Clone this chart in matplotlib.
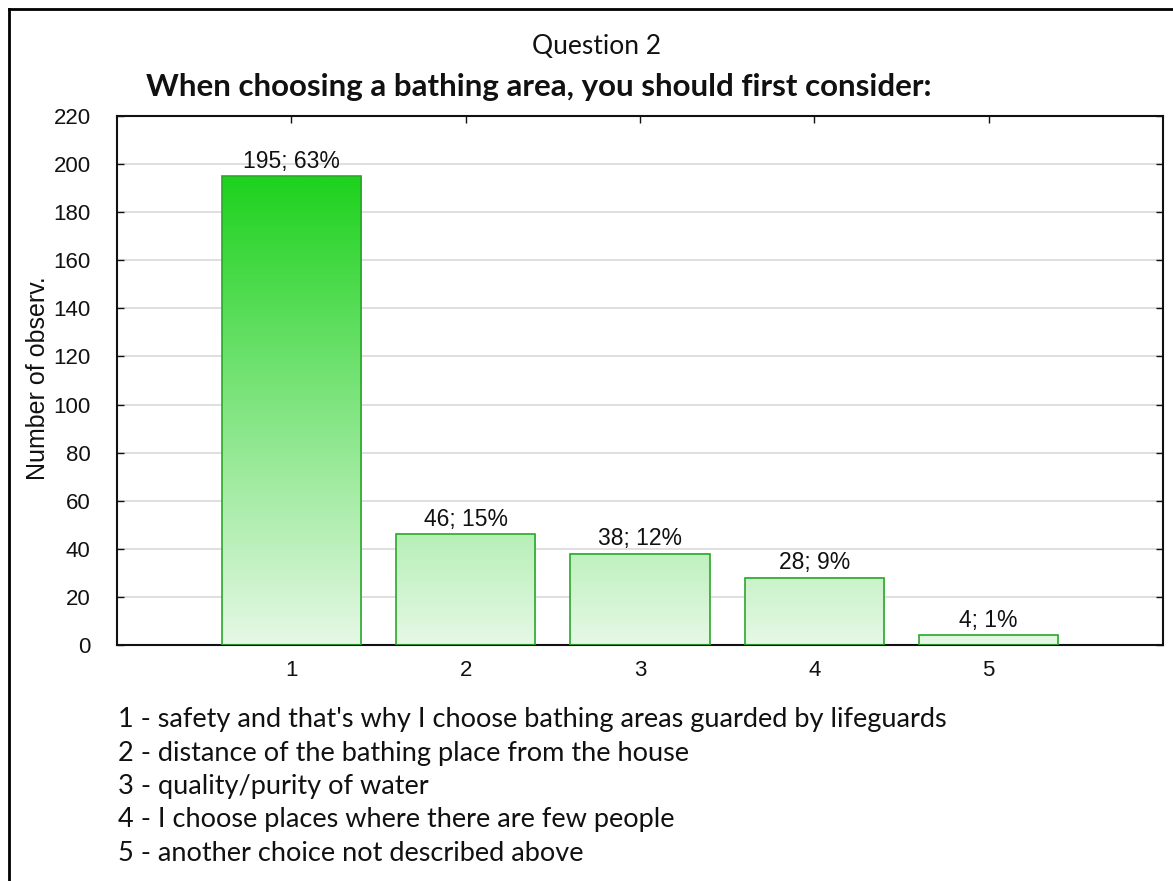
import numpy as np
import matplotlib
matplotlib.use("Agg")
import matplotlib.pyplot as plt
from matplotlib.colors import LinearSegmentedColormap
from matplotlib.lines import Line2D

categories = ["1", "2", "3", "4", "5"]
counts = [195, 46, 38, 28, 4]
percents = [63, 15, 12, 9, 1]
legend_lines = [
    "1 - safety and that's why I choose bathing areas guarded by lifeguards",
    "2 - distance of the bathing place from the house",
    "3 - quality/purity of water",
    "4 - I choose places where there are few people",
    "5 - another choice not described above",
]
y_ticks = list(range(0, 221, 20))

W, H = 1173, 881
fig = plt.figure(figsize=(W / 100, H / 100), dpi=100)
fig.patch.set_facecolor("white")

ax_l, ax_r, ax_t, ax_b = 117, 1163, 116, 645
ax = fig.add_axes([ax_l / W, 1 - ax_b / H, (ax_r - ax_l) / W, (ax_b - ax_t) / H])

ax.set_xticks(range(1, 6))
ax.set_xticklabels(categories)
ax.set_yticks(y_ticks)
ax.yaxis.grid(True, color="#d9d9d9", linewidth=1.2)
ax.set_axisbelow(True)

# vertical gradient shared by all bars, keyed to the value axis
cmap = LinearSegmentedColormap.from_list("grn", ["#e6f8e6", "#1ed21e"])
vmax = max(counts)
bar_w = 0.8
for i, v in enumerate(counts):
    x = i + 1
    grad = np.linspace(0, v, 200).reshape(-1, 1)
    ax.imshow(grad, extent=(x - bar_w / 2, x + bar_w / 2, 0, v), origin="lower",
              cmap=cmap, vmin=0, vmax=vmax, aspect="auto", zorder=2)
    ax.bar(x, v, width=bar_w, facecolor="none", edgecolor="#2aa82a", linewidth=1.2, zorder=3)
    ax.annotate(f"{v}; {percents[i]}%", (x, v), xytext=(0, 2.5), textcoords="offset points",
                ha="center", va="bottom", fontsize=16.5, family="Liberation Sans", color="#111111")

ax.set_xlim(0, 6)
ax.set_ylim(0, 220)

for s in ax.spines.values():
    s.set_color("#111111")
    s.set_linewidth(1.5)
ax.tick_params(axis="both", direction="in", length=5, width=1, top=True, right=True,
               labelsize=16, colors="#111111")
ax.tick_params(axis="y", pad=19)
ax.tick_params(axis="x", pad=11)
for lab in ax.get_xticklabels() + ax.get_yticklabels():
    lab.set_family("Liberation Sans")

fig.text(38 / W, 1 - 378 / H, "Number of observ.", rotation=90, ha="center", va="center",
         fontsize=18, family="Liberation Sans", color="#111111")

fig.text(597 / W, 1 - 47 / H, "Question 2", ha="center", va="center",
         fontsize=19, family="Lato", color="#111111")
fig.text(539 / W, 1 - 87 / H, "When choosing a bathing area, you should first consider:",
         ha="center", va="center", fontsize=22.5, family="Lato", weight="bold", color="#111111")

for k, line in enumerate(legend_lines):
    fig.text(118 / W, 1 - (720 + 33.3 * k) / H, line, ha="left", va="center",
             fontsize=19.5, family="Lato", color="#111111")

# frame lines along the left and top edges
fig.add_artist(Line2D([9 / W, 9 / W], [0, 1 - 9 / H], color="black", linewidth=2,
                      transform=fig.transFigure))
fig.add_artist(Line2D([9 / W, 1], [1 - 9 / H, 1 - 9 / H], color="black", linewidth=2,
                      transform=fig.transFigure))

fig.savefig("out.png", dpi=100)
